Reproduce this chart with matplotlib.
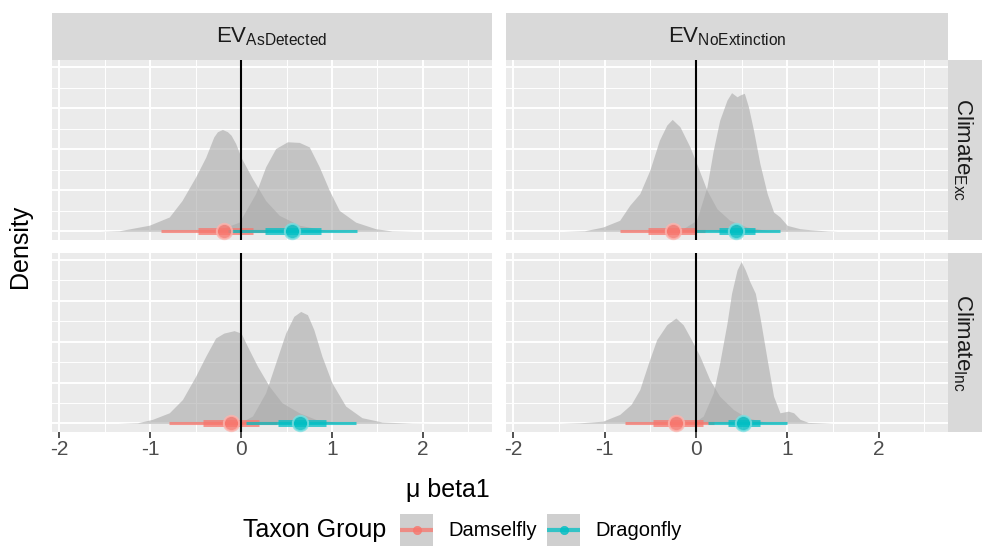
import matplotlib.pyplot as plt
from matplotlib.ticker import MultipleLocator

plt.rcParams['font.family'] = ['Liberation Sans', 'DejaVu Sans']
plt.rcParams['mathtext.fontset'] = 'custom'
plt.rcParams['mathtext.rm'] = 'Liberation Sans'
plt.rcParams['axes.unicode_minus'] = False

# === data ===
facet_cols = ['AsDetected', 'NoExtinction']
facet_rows = ['Exc', 'Inc']
groups = ['Damselfly', 'Dragonfly']
group_colors = ['#F8766D', '#00BFC4']
x_ticks = [-2, -1, 0, 1, 2]

# density curves (x, height) per panel
dens_x_asdet_exc_dam = [-1.55, -1.34, -1.01, -0.79, -0.65, -0.50, -0.39, -0.30, -0.26, -0.205, -0.15, -0.11, -0.06, 0.0, 0.125, 0.27, 0.42, 0.64, 0.93, 1.2]
dens_h_asdet_exc_dam = [0, 0.03, 0.3, 0.7, 1.5, 2.65, 3.6, 4.6, 4.85, 4.96, 4.85, 4.68, 4.28, 3.6, 2.57, 1.5, 0.78, 0.3, 0.05, 0]
dens_x_asdet_exc_drg = [-0.35, -0.28, -0.02, 0.16, 0.27, 0.38, 0.51, 0.64, 0.75, 0.86, 0.97, 1.08, 1.26, 1.48, 1.66, 1.9]
dens_h_asdet_exc_drg = [0, 0.02, 0.45, 1.84, 3.14, 4.03, 4.36, 4.33, 4.11, 3.14, 2.0, 1.02, 0.45, 0.13, 0.02, 0]

dens_x_noext_exc_dam = [-1.45, -1.22, -1.02, -0.835, -0.725, -0.615, -0.505, -0.40, -0.32, -0.26, -0.175, -0.066, 0.007, 0.12, 0.23, 0.37, 0.56, 0.78, 0.95]
dens_h_noext_exc_dam = [0, 0.03, 0.21, 0.54, 1.27, 1.84, 2.98, 4.44, 5.17, 5.45, 5.09, 4.11, 3.30, 2.0, 1.1, 0.54, 0.21, 0.04, 0]
dens_x_noext_exc_drg = [-0.25, -0.18, 0.007, 0.12, 0.19, 0.26, 0.34, 0.39, 0.45, 0.48, 0.53, 0.575, 0.63, 0.70, 0.78, 0.85, 0.92, 1.0, 1.14, 1.25, 1.44, 1.55]
dens_h_noext_exc_drg = [0, 0.02, 0.54, 2.16, 3.95, 5.41, 6.39, 6.75, 6.55, 6.63, 6.72, 6.06, 4.93, 3.30, 1.84, 0.94, 0.70, 0.29, 0.13, 0.08, 0.02, 0]

dens_x_asdet_inc_dam = [-1.35, -1.14, -0.975, -0.79, -0.645, -0.50, -0.39, -0.28, -0.19, -0.077, 0.0, 0.07, 0.18, 0.31, 0.45, 0.64, 0.82, 1.08, 1.3]
dens_h_asdet_inc_dam = [0, 0.03, 0.2, 0.52, 1.17, 2.31, 3.28, 4.18, 4.42, 4.54, 4.42, 3.77, 2.80, 1.82, 1.01, 0.52, 0.2, 0.03, 0]
dens_x_asdet_inc_drg = [-0.1, -0.02, 0.125, 0.27, 0.38, 0.49, 0.58, 0.656, 0.73, 0.80, 0.89, 1.0, 1.15, 1.33, 1.55, 1.88, 2.1]
dens_h_asdet_inc_drg = [0, 0.02, 0.36, 1.50, 2.96, 4.42, 5.24, 5.48, 5.32, 4.59, 3.28, 1.98, 0.85, 0.28, 0.07, 0.01, 0]

dens_x_noext_inc_dam = [-1.5, -1.27, -1.02, -0.835, -0.71, -0.615, -0.52, -0.43, -0.32, -0.22, -0.14, -0.05, 0.044, 0.15, 0.26, 0.41, 0.56, 0.78, 0.95]
dens_h_noext_inc_dam = [0, 0.03, 0.11, 0.44, 0.93, 1.66, 2.96, 4.10, 4.83, 5.16, 4.83, 4.10, 3.28, 2.15, 1.33, 0.68, 0.28, 0.04, 0]
dens_x_noext_inc_drg = [-0.1, -0.03, 0.08, 0.19, 0.26, 0.34, 0.39, 0.45, 0.495, 0.54, 0.59, 0.65, 0.70, 0.78, 0.85, 0.92, 1.01, 1.07, 1.14, 1.23, 1.40, 1.5]
dens_h_noext_inc_drg = [0, 0.02, 0.36, 1.50, 2.96, 4.91, 6.37, 7.51, 7.92, 7.51, 6.94, 6.37, 5.23, 3.12, 1.33, 0.52, 0.60, 0.52, 0.2, 0.05, 0.02, 0]

# point intervals, panel order: AsDet-Exc, NoExt-Exc, AsDet-Inc, NoExt-Inc
dam_median = [-0.19, -0.25, -0.11, -0.22]
dam_q66_lo = [-0.47, -0.52, -0.42, -0.47]
dam_q66_hi = [0.13, 0.0, 0.20, 0.08]
dam_q95_lo = [-0.88, -0.835, -0.79, -0.78]
dam_q95_hi = [0.30, 0.10, 0.40, 0.20]
drg_median = [0.565, 0.44, 0.65, 0.52]
drg_q66_lo = [0.26, 0.25, 0.41, 0.355]
drg_q66_hi = [0.875, 0.65, 0.93, 0.70]
drg_q95_lo = [-0.14, 0.0, 0.05, 0.135]
drg_q95_hi = [1.27, 0.92, 1.26, 1.0]

densities = {
    ('AsDetected', 'Exc'): [(dens_x_asdet_exc_dam, dens_h_asdet_exc_dam), (dens_x_asdet_exc_drg, dens_h_asdet_exc_drg)],
    ('NoExtinction', 'Exc'): [(dens_x_noext_exc_dam, dens_h_noext_exc_dam), (dens_x_noext_exc_drg, dens_h_noext_exc_drg)],
    ('AsDetected', 'Inc'): [(dens_x_asdet_inc_dam, dens_h_asdet_inc_dam), (dens_x_asdet_inc_drg, dens_h_asdet_inc_drg)],
    ('NoExtinction', 'Inc'): [(dens_x_noext_inc_dam, dens_h_noext_inc_dam), (dens_x_noext_inc_drg, dens_h_noext_inc_drg)],
}
intervals = [
    (dam_median, dam_q66_lo, dam_q66_hi, dam_q95_lo, dam_q95_hi),
    (drg_median, drg_q66_lo, drg_q66_hi, drg_q95_lo, drg_q95_hi),
]
light_colors = ['#FBB5AF', '#7FDFE1']

# === layout (pixels) ===
W, H = 982, 553
fig = plt.figure(figsize=(W / 100, H / 100), dpi=100)


def box(x0, y0, x1, y1):
    return [x0 / W, 1 - y1 / H, (x1 - x0) / W, (y1 - y0) / H]


col_px = [(52, 492), (506, 948)]
row_px = [(60, 240), (253, 432)]
strip_bg = '#D9D9D9'

k = 0
for r, row in enumerate(facet_rows):
    for c, col in enumerate(facet_cols):
        ax = fig.add_axes(box(col_px[c][0], row_px[r][0], col_px[c][1], row_px[r][1]))
        ax.set_facecolor('#EBEBEB')
        for s in ax.spines.values():
            s.set_visible(False)
        ax.set_xlim(-2.08, 2.76)
        ax.set_ylim(-0.42, 8.34)
        ax.xaxis.set_major_locator(MultipleLocator(1))
        ax.xaxis.set_minor_locator(MultipleLocator(0.5))
        ax.yaxis.set_major_locator(MultipleLocator(2))
        ax.yaxis.set_minor_locator(MultipleLocator(1))
        ax.grid(which='major', color='white', lw=1.4)
        ax.grid(which='minor', color='white', lw=0.7)
        ax.set_axisbelow(True)
        ax.tick_params(axis='y', which='both', length=0, labelleft=False)
        ax.tick_params(axis='x', which='minor', length=0)
        if r == 1:
            ax.set_xticks(x_ticks)
            ax.tick_params(axis='x', which='major', length=4, width=1.2, color='#333333',
                           labelsize=15, labelcolor='#4D4D4D', pad=2)
        else:
            ax.tick_params(axis='x', which='major', length=0, labelbottom=False)

        for dx, dh in densities[(col, row)]:
            ax.fill_between(dx, 0, dh, color='#a9a9a9', alpha=0.6, lw=0, zorder=2)

        for g, (med, lo66, hi66, lo95, hi95) in enumerate(intervals):
            clr = group_colors[g]
            ax.plot([lo95[k], hi95[k]], [0, 0], color=clr, lw=2.2, alpha=0.75,
                    solid_capstyle='butt', zorder=3)
            ax.plot([lo66[k], hi66[k]], [0, 0], color=clr, lw=5, alpha=0.75,
                    solid_capstyle='butt', zorder=3)
            ax.plot(med[k], 0, 'o', ms=11, mfc=clr, mec=light_colors[g], mew=1.5,
                    alpha=0.8, zorder=4)
        ax.axvline(0, color='black', lw=1.5, zorder=5)
        k += 1

# strips
strip_top = ['AsDetected', 'NoExtinction']
for c, lab in enumerate(strip_top):
    sa = fig.add_axes(box(col_px[c][0], 13, col_px[c][1], 60))
    sa.set_facecolor(strip_bg)
    sa.set_xticks([]); sa.set_yticks([])
    for s in sa.spines.values():
        s.set_visible(False)
    sa.text(0.5, 0.5, r'$\mathrm{EV}_{\mathrm{' + lab + '}}$', ha='center', va='center',
            fontsize=16, color='#1A1A1A', transform=sa.transAxes)

for r, lab in enumerate(facet_rows):
    sa = fig.add_axes(box(948, row_px[r][0], 982, row_px[r][1]))
    sa.set_facecolor(strip_bg)
    sa.set_xticks([]); sa.set_yticks([])
    for s in sa.spines.values():
        s.set_visible(False)
    sa.text(0.45, 0.5, r'$\mathrm{Climate}_{\mathrm{' + lab + '}}$', ha='center', va='center',
            rotation=-90, fontsize=16, color='#1A1A1A', transform=sa.transAxes)

# axis titles
fig.text(448 / W, 1 - 490 / H, 'μ beta1', ha='center', va='center', fontsize=18)
fig.text(20 / W, 1 - 246 / H, 'Density', ha='center', va='center', rotation=90, fontsize=18)

# legend (drawn by hand, title on the left like ggplot)
fig.text(243 / W, 1 - 530 / H, 'Taxon Group', ha='left', va='center', fontsize=18)
key_px = [(400, 448), (547, 595)]
for g, name in enumerate(groups):
    kx, tx = key_px[g]
    ka = fig.add_axes(box(kx, 514, kx + 33, 546))
    ka.set_facecolor('#CFCFCF')
    ka.set_xlim(0, 1); ka.set_ylim(0, 1)
    ka.set_xticks([]); ka.set_yticks([])
    for s in ka.spines.values():
        s.set_visible(False)
    ka.plot([0.0, 1.0], [0.5, 0.5], color=group_colors[g], lw=3, alpha=0.75, solid_capstyle='butt')
    ka.plot(0.5, 0.5, 'o', ms=6, mfc=group_colors[g], mec=group_colors[g], mew=0.5, alpha=0.8)
    fig.text(tx / W, 1 - 530 / H, name, ha='left', va='center', fontsize=14.5)

fig.savefig('out.png', dpi=100)
